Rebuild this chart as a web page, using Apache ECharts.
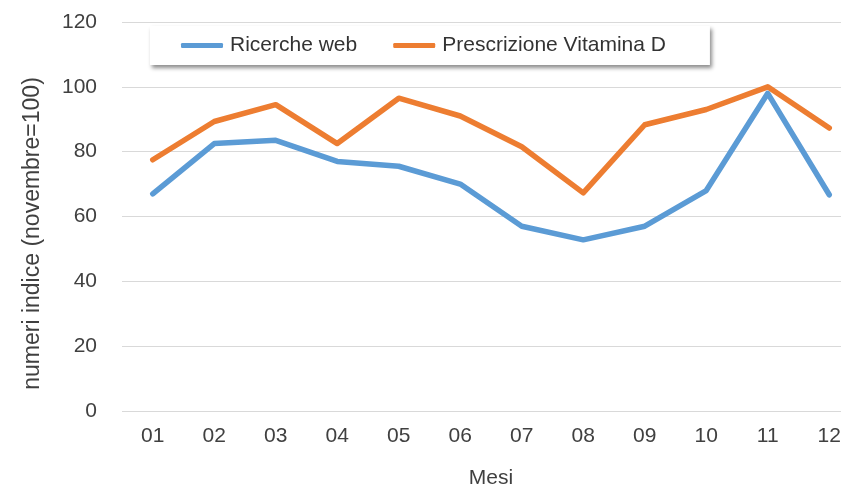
<!DOCTYPE html>
<html>
<head>
<meta charset="utf-8">
<script src="https://cdn.jsdelivr.net/npm/echarts@6/dist/echarts.min.js"></script>
<style>
  html, body { margin: 0; padding: 0; background: #fff; overflow: hidden; }
  /* the original picture is cropped on the right, so the chart is a bit wider than the page */
  #chart { width: 860px; height: 495px; }
</style>
</head>
<body>
<div id="chart"></div>
<script>
// mesi
const months = ['01', '02', '03', '04', '05', '06', '07', '08', '09', '10', '11', '12']
// numeri indice, novembre = 100
const ricercheWeb = [67, 82.5, 83.5, 77, 75.5, 70, 57, 52.8, 57, 68, 98, 66.7]
const prescrizioneVitD = [77.5, 89.3, 94.5, 82.5, 96.5, 91, 81.5, 67.3, 88.3, 93, 100, 87.3]

const textColor = '#404040'
const font = 'Liberation Sans, Arial, sans-serif'

let myChart = echarts.init(document.getElementById('chart'))
let option = {
  animation: false,
  grid: {
    left: 122,
    top: 22,
    right: 0,
    height: 389,
    containLabel: false
  },
  legend: {
    data: ['Ricerche web', 'Prescrizione Vitamina D'],
    left: 150,
    top: 26,
    padding: [9, 44, 9, 31],
    itemGap: 36,
    itemWidth: 42,
    itemHeight: 5,
    icon: 'roundRect',
    backgroundColor: '#fff',
    shadowColor: 'rgba(0,0,0,0.45)',
    shadowBlur: 4,
    shadowOffsetX: 2,
    shadowOffsetY: 3,
    textStyle: { fontSize: 21, color: '#333', fontFamily: font, padding: [0, 0, 0, 2] }
  },
  xAxis: {
    type: 'category',
    data: months,
    name: 'Mesi',
    nameLocation: 'middle',
    nameGap: 57,
    nameTextStyle: { fontSize: 21, color: textColor, fontFamily: font },
    axisLine: { show: false },
    axisTick: { show: false },
    axisLabel: { fontSize: 21, color: textColor, fontFamily: font, margin: 15 }
  },
  yAxis: {
    type: 'value',
    min: 0,
    max: 120,
    interval: 20,
    name: 'numeri indice (novembre=100)',
    nameLocation: 'middle',
    nameGap: 78,
    nameTextStyle: { fontSize: 23, color: textColor, fontFamily: font, padding: [0, 34, 0, 0] },
    axisLine: { show: false },
    axisTick: { show: false },
    axisLabel: { fontSize: 21, color: textColor, fontFamily: font, margin: 25 },
    splitLine: { lineStyle: { color: '#d9d9d9', width: 1 } }
  },
  series: [
    {
      name: 'Ricerche web',
      type: 'line',
      data: ricercheWeb,
      showSymbol: false,
      symbol: 'none',
      lineStyle: { color: '#5b9bd5', width: 5.5, cap: 'round', join: 'round' },
      itemStyle: { color: '#5b9bd5' }
    },
    {
      name: 'Prescrizione Vitamina D',
      type: 'line',
      data: prescrizioneVitD,
      showSymbol: false,
      symbol: 'none',
      lineStyle: { color: '#ed7d31', width: 5.5, cap: 'round', join: 'round' },
      itemStyle: { color: '#ed7d31' }
    }
  ]
}
myChart.setOption(option)
</script>
</body>
</html>
